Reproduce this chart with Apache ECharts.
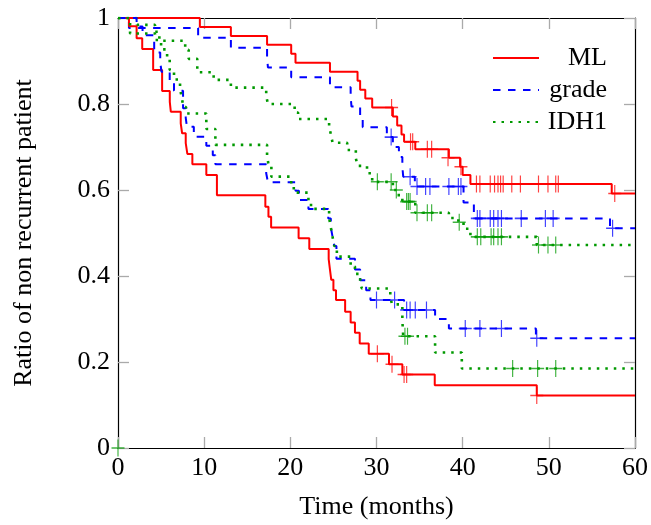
<!DOCTYPE html>
<html>
<head>
<meta charset="utf-8">
<script src="https://cdn.jsdelivr.net/npm/echarts@6/dist/echarts.min.js"></script>
<style>html,body{margin:0;padding:0;background:#fff;}#chart{width:651px;height:525px;}</style>
</head>
<body>
<div id="chart"></div>
<script>
// Axis ticks
var xTicks = [0, 10, 20, 30, 40, 50, 60];
var yTicks = [0, 0.2, 0.4, 0.6, 0.8, 1];
var legendNames = ['ML', 'grade', 'IDH1'];

// ML: low-risk group (upper red) [time, survival]
var mlLow = [[0,1],[9.5,0.979],[13.1,0.958],[17.3,0.938],[20.1,0.917],[20.6,0.896],[24.6,0.875],[27.8,0.854],[28.1,0.833],[28.7,0.813],[29.5,0.792],[31.9,0.771],[32.4,0.750],[32.9,0.729],[33.2,0.712],[34.5,0.695],[38.4,0.675],[39.7,0.654],[40.0,0.635],[40.9,0.614],[57.3,0.592],[60,0.592]];
var mlLowCensor = [[31.75,0.792],[33.95,0.712],[34.2,0.712],[35.9,0.695],[36.4,0.695],[38.3,0.675],[39.8,0.654],[41.6,0.614],[42.0,0.614],[43.2,0.614],[43.7,0.614],[44.1,0.614],[44.4,0.614],[44.7,0.614],[45.7,0.614],[46.7,0.614],[48.8,0.614],[49.9,0.614],[50.8,0.614],[51.1,0.614],[57.65,0.592]];
// ML: high-risk group (lower red)
var mlHigh = [[0,1],[1.27,0.981],[2.16,0.953],[2.81,0.928],[4.08,0.879],[5.12,0.830],[6.01,0.805],[6.13,0.782],[7.28,0.755],[7.44,0.732],[7.86,0.709],[8.05,0.684],[8.63,0.660],[10.25,0.635],[11.48,0.588],[17.1,0.561],[17.46,0.538],[17.77,0.513],[20.96,0.488],[22.2,0.463],[24.45,0.439],[24.6,0.415],[24.75,0.391],[25.0,0.367],[25.3,0.344],[26.36,0.317],[27.0,0.292],[27.5,0.268],[28.05,0.243],[29.1,0.219],[31.45,0.195],[33.0,0.171],[36.76,0.146],[48.6,0.122],[60,0.122]];
var mlHighCensor = [[30.1,0.219],[31.8,0.195],[33.2,0.171],[33.5,0.171],[48.6,0.122]];

// grade: low-risk group (upper blue)
var gradeLow = [[0,1],[1.27,0.977],[9.3,0.954],[13.1,0.931],[17.3,0.908],[17.4,0.885],[20.1,0.862],[24.6,0.839],[27.0,0.816],[27.1,0.794],[28.1,0.770],[28.4,0.746],[31.2,0.723],[31.9,0.700],[32.6,0.677],[33.0,0.654],[33.1,0.631],[34.45,0.608],[40.1,0.571],[41.3,0.534],[57.1,0.511],[60,0.511]];
var gradeLowCensor = [[31.7,0.723],[33.9,0.631],[34.7,0.608],[35.7,0.608],[36.2,0.608],[38.4,0.608],[39.5,0.608],[39.8,0.608],[41.7,0.534],[42.0,0.534],[43.2,0.534],[43.6,0.534],[44.1,0.534],[44.5,0.534],[46.8,0.534],[49.6,0.534],[50.5,0.534],[57.4,0.511]];
// grade: high-risk group (lower blue)
var gradeHigh = [[0,1],[2.16,0.980],[2.85,0.960],[4.2,0.920],[4.9,0.897],[5.05,0.875],[6.0,0.853],[6.5,0.831],[7.55,0.790],[7.86,0.768],[8.0,0.747],[8.8,0.724],[10.25,0.703],[11.0,0.681],[11.3,0.660],[17.2,0.639],[17.4,0.618],[20.6,0.598],[21.0,0.577],[22.1,0.556],[24.4,0.534],[24.7,0.513],[24.9,0.491],[25.1,0.470],[25.35,0.440],[27.5,0.415],[28.1,0.390],[28.8,0.367],[29.3,0.344],[33.2,0.321],[36.8,0.300],[38.4,0.278],[48.5,0.255],[60,0.255]];
var gradeHighCensor = [[30.0,0.344],[32.1,0.344],[33.5,0.321],[33.9,0.321],[34.5,0.321],[35.8,0.321],[40.3,0.278],[42.0,0.278],[44.5,0.278],[48.6,0.255]];

// IDH1: low-risk group (upper green)
var idhLow = [[0,1],[2.2,0.984],[4.3,0.968],[4.8,0.947],[7.8,0.926],[8.2,0.905],[9.2,0.874],[11.1,0.856],[13.1,0.838],[17.2,0.819],[17.4,0.800],[20.5,0.780],[20.9,0.765],[24.5,0.747],[24.7,0.730],[24.9,0.710],[26.6,0.693],[27.6,0.674],[27.8,0.656],[28.9,0.639],[29.5,0.619],[31.9,0.600],[32.4,0.588],[33.0,0.573],[34.5,0.547],[38.4,0.535],[39.5,0.525],[40.1,0.510],[40.9,0.491],[48.6,0.472],[60,0.472]];
var idhLowCensor = [[30.1,0.619],[31.7,0.619],[32.3,0.600],[33.5,0.573],[33.7,0.573],[33.9,0.573],[34.7,0.547],[35.9,0.547],[36.4,0.547],[39.6,0.525],[41.7,0.491],[42.1,0.491],[43.3,0.491],[43.6,0.491],[44.1,0.491],[44.5,0.491],[48.8,0.472],[49.9,0.472],[50.8,0.472]];
// IDH1: high-risk group (lower green)
var idhHigh = [[0,1],[1.4,0.964],[4.3,0.949],[5.0,0.927],[5.7,0.905],[6.0,0.879],[6.5,0.857],[7.2,0.836],[7.4,0.814],[7.6,0.793],[7.9,0.778],[10.25,0.742],[11.3,0.705],[17.3,0.680],[17.5,0.655],[17.8,0.631],[20.1,0.612],[20.4,0.594],[22.1,0.575],[22.4,0.556],[24.5,0.535],[24.7,0.513],[24.9,0.491],[25.1,0.470],[25.4,0.445],[27.0,0.422],[27.5,0.405],[28.1,0.384],[28.3,0.371],[31.6,0.352],[31.8,0.334],[33.0,0.297],[33.1,0.260],[36.8,0.222],[39.9,0.185],[60,0.185]];
var idhHighCensor = [[0,0],[33.3,0.260],[33.6,0.260],[45.8,0.185],[48.7,0.185],[50.8,0.185]];

var RED = '#ff0000', BLUE = '#0000ff', GREEN = '#009900';
var FONT = '"Liberation Serif", "Times New Roman", serif';
var FS = 26;
var PLUS = 'path://M-0.09,-1H0.09V1H-0.09Z M-1,-0.09H1V0.09H-1Z';

function curve(name, data, color, dash, width) {
  return {
    name: name, type: 'line', step: 'end', data: data,
    symbol: 'none', showSymbol: false, silent: true, animation: false,
    lineStyle: { color: color, width: width, type: dash, cap: 'butt' },
    itemStyle: { color: color }, z: 3
  };
}
function censor(name, data, color) {
  return {
    name: name, type: 'scatter', data: data, symbol: PLUS, symbolSize: [13, 17],
    silent: true, animation: false,
    itemStyle: { color: color, opacity: 0.75 }, z: 4
  };
}

var tickStyle = { show: true, inside: true, length: 11, lineStyle: { color: '#aaaaaa', width: 1.3 } };
var axisLineStyle = { show: true, onZero: false, lineStyle: { color: '#000', width: 1.2 } };

var option = {
  animation: false,
  backgroundColor: '#fff',
  grid: { left: 118, right: 14, top: 18, bottom: 77, containLabel: false },
  legend: {
    orient: 'vertical', left: 487, top: 40,
    itemWidth: 46, itemHeight: 14, itemGap: 6,
    data: legendNames.map(function (n) { return { name: n }; }),
    itemStyle: { opacity: 0 },
    formatter: function (n) { return '{a|' + n + '}'; },
    textStyle: {
      fontFamily: FONT, fontSize: FS, color: '#000', lineHeight: 26,
      rich: { a: { width: 63, align: 'right', fontFamily: FONT, fontSize: FS, color: '#000', lineHeight: 26 } }
    },
    selectedMode: false
  },
  xAxis: [{
    type: 'value', min: xTicks[0], max: xTicks[xTicks.length - 1], interval: 10, position: 'bottom',
    name: 'Time (months)', nameLocation: 'middle', nameGap: 46,
    nameTextStyle: { fontFamily: FONT, fontSize: FS, color: '#000' },
    axisLine: axisLineStyle, axisTick: tickStyle, splitLine: { show: false },
    axisLabel: { fontFamily: FONT, fontSize: FS, color: '#000', margin: 7 }
  }, {
    type: 'value', min: xTicks[0], max: xTicks[xTicks.length - 1], interval: 10, position: 'top',
    axisLine: axisLineStyle, axisTick: tickStyle, splitLine: { show: false }, axisLabel: { show: false }
  }],
  yAxis: [{
    type: 'value', min: yTicks[0], max: yTicks[yTicks.length - 1], interval: 0.2, position: 'left',
    name: 'Ratio of non recurrent patient', nameLocation: 'middle', nameGap: 81, nameRotate: 90,
    nameTextStyle: { fontFamily: FONT, fontSize: FS, color: '#000' },
    axisLine: axisLineStyle, axisTick: tickStyle, splitLine: { show: false },
    axisLabel: { fontFamily: FONT, fontSize: FS, color: '#000', margin: 8 }
  }, {
    type: 'value', min: yTicks[0], max: yTicks[yTicks.length - 1], interval: 0.2, position: 'right',
    axisLine: axisLineStyle, axisTick: tickStyle, splitLine: { show: false }, axisLabel: { show: false }
  }],
  series: [
    curve('ML', mlLow, RED, 'solid', 2),
    curve('grade', gradeLow, BLUE, [7.5, 7.5], 2),
    curve('IDH1', idhLow, GREEN, [2.5, 6], 2.6),
    curve('ML', mlHigh, RED, 'solid', 2),
    curve('grade', gradeHigh, BLUE, [7.5, 7.5], 2),
    curve('IDH1', idhHigh, GREEN, [2.5, 6], 2.6),
    censor('ML', mlLowCensor, RED),
    censor('ML', mlHighCensor, RED),
    censor('grade', gradeLowCensor, BLUE),
    censor('grade', gradeHighCensor, BLUE),
    censor('IDH1', idhLowCensor, GREEN),
    censor('IDH1', idhHighCensor, GREEN)
  ]
};

var chart = echarts.init(document.getElementById('chart'), null, { renderer: 'canvas' });
chart.setOption(option);
</script>
</body>
</html>
